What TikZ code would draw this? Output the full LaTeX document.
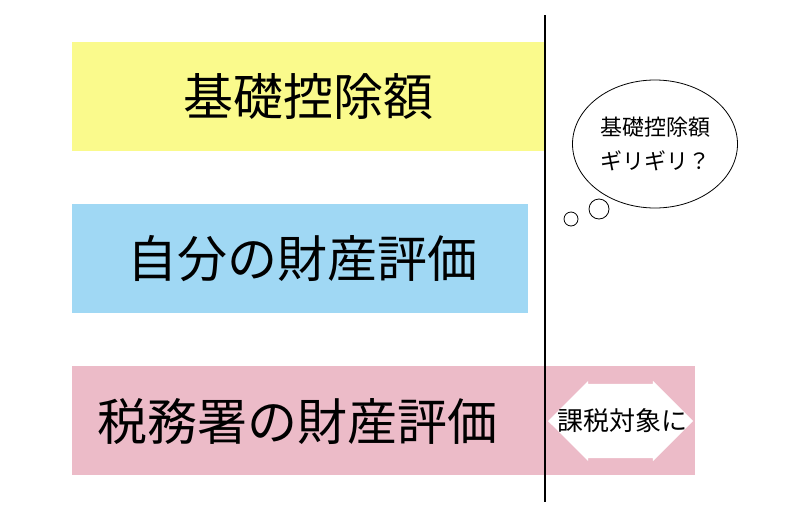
\documentclass[tikz,border=0pt]{standalone}
\usepackage{fontspec}
\newfontfamily\cjk{Noto Sans CJK JP}
\usetikzlibrary{shapes.arrows,shapes.geometric}
\definecolor{barpink}{RGB}{236,187,200}
\definecolor{barblue}{RGB}{160,216,244}
\definecolor{baryellow}{RGB}{250,250,140}
\begin{document}
\begin{tikzpicture}
  [x=1pt,y=-1pt,
   band/.style={rectangle,anchor=north west,inner sep=0pt},
   big/.style={font=\cjk\fontsize{50}{50}\selectfont},
   bubble/.style={ellipse,draw=black,thick,fill=white},
   puff/.style={circle,draw=black,thick,fill=white,inner sep=0pt}]
  \useasboundingbox (0,0) rectangle (800,517);
  \fill[white] (0,0) rectangle (800,517);
  \node (base) [band,fill=baryellow,minimum width=473pt,minimum height=109pt] at (72,42) {};
  \node (baselabel) [big] at (308,97) {基礎控除額};
  \node (own) [band,fill=barblue,minimum width=456pt,minimum height=109pt] at (72,204) {};
  \node (ownlabel) [big] at (302,259) {自分の財産評価};
  \node (tax) [band,fill=barpink,minimum width=623pt,minimum height=109pt] at (72,366) {};
  \node (taxlabel) [big] at (297,421) {税務署の財産評価};
  \node (arrow) [double arrow,fill=white,inner sep=0pt,minimum height=145pt,
    double arrow head extend=3pt,double arrow head indent=0pt] at (620.5,421) {\rule{0pt}{74pt}};
  \node (arrowlabel) [font=\cjk\fontsize{26}{26}\selectfont] at (622,421) {課税対象に};
  \coordinate (top) at (545,15);
  \coordinate (bottom) at (545,502);
  \draw[line width=2.8pt] (top) -- (bottom);
  \node (think) [bubble,minimum width=144pt,minimum height=128pt,align=center,
    font=\cjk\fontsize{22}{34}\selectfont] at (655,144) {基礎控除額\\ギリギリ？};
  \node (p1) [puff,minimum size=14pt] at (571,219) {};
  \node (p2) [puff,minimum size=20pt] at (599,209) {};
\end{tikzpicture}
\end{document}
